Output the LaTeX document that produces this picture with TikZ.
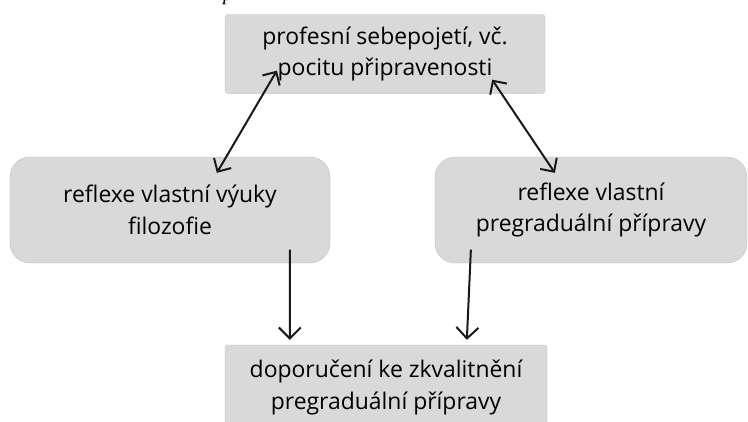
\documentclass[tikz,border=0pt]{standalone}
\usepackage{fontspec}
\setmainfont{Open Sans}
\newfontfamily\serifit{Liberation Serif}
\usetikzlibrary{arrows.meta}
\definecolor{boxgray}{RGB}{217,217,217}
\definecolor{inkdark}{RGB}{25,25,25}
\tikzset{
  card/.style={fill=boxgray, draw=boxgray!85!black, line width=0.3bp, align=center,
    inner sep=0pt, font=\fontsize{23}{32}\selectfont, text=black},
  squarecard/.style={card, rounded corners=3bp},
  roundcard/.style={card, rounded corners=20bp},
  link/.style={draw=inkdark, line width=2bp, line cap=round,
    -{Straight Barb[length=11bp,width=22bp,line width=2bp]}},
  twoway/.style={draw=inkdark, line width=2bp, line cap=round,
    {Straight Barb[length=10bp,width=20bp,line width=2bp]}-{Straight Barb[length=10bp,width=20bp,line width=2bp]}}
}
\begin{document}
\begin{tikzpicture}[x=1bp,y=-1bp]
\useasboundingbox (0,0) rectangle (748,421);

% descender of a heading letter, cut off by the upper edge
\node[anchor=base, inner sep=0pt, font=\fontsize{20}{24}\serifit\itshape] (cut) at (228,0) {p};

% boxes
\node[squarecard, minimum width=320bp, minimum height=79bp] (top) at (385,54)
  {profesní sebepojetí, vč.\\pocitu připravenosti};
\node[roundcard, minimum width=320bp, minimum height=106bp] (left) at (170,210)
  {reflexe vlastní výuky\\filozofie};
\node[roundcard, minimum width=312bp, minimum height=106bp] (right) at (591,210)
  {reflexe vlastní\\pregraduální přípravy};
\node[squarecard, minimum width=322bp, minimum height=85bp] (bottom) at (386,387.5)
  {doporučení ke zkvalitnění\\pregraduální přípravy};

% connectors
\draw[twoway] ([shift={(52,-23)}]top.south west) -- ([shift={(207,16)}]left.north west);
\draw[twoway] ([shift={(-53,-14)}]top.south east) -- ([shift={(120,16)}]right.north west);
\draw[link] ([shift={(280,-13)}]left.south west) -- ([shift={(65,-5)}]bottom.north west);
\draw[link] ([shift={(36,-13)}]right.south west) -- ([shift={(242,-5)}]bottom.north west);
\end{tikzpicture}
\end{document}
